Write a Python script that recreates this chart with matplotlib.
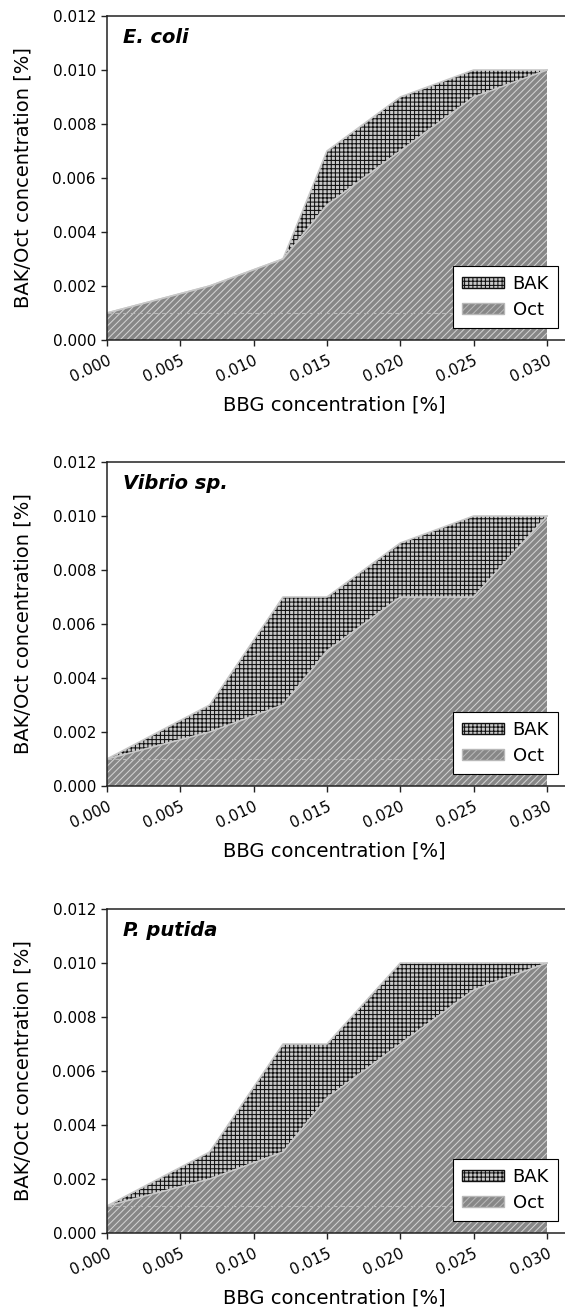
import matplotlib
matplotlib.use("Agg")
import matplotlib.pyplot as plt
from matplotlib.patches import Patch

plt.rcParams['font.family'] = ['DejaVu Sans']
plt.rcParams['hatch.linewidth'] = 0.75

# BBG concentration [%]
bbg = [0.000, 0.007, 0.012, 0.015, 0.020, 0.025, 0.030]

species = ["E. coli", "Vibrio sp.", "P. putida"]
# BAK (upper boundary) and Oct values per species
bak = {
    "E. coli":    [0.001, 0.002, 0.003, 0.007, 0.009, 0.010, 0.010],
    "Vibrio sp.": [0.001, 0.003, 0.007, 0.007, 0.009, 0.010, 0.010],
    "P. putida":  [0.001, 0.003, 0.007, 0.007, 0.010, 0.010, 0.010],
}
oct_ = {
    "E. coli":    [0.001, 0.002, 0.003, 0.005, 0.007, 0.009, 0.010],
    "Vibrio sp.": [0.001, 0.002, 0.003, 0.005, 0.007, 0.007, 0.010],
    "P. putida":  [0.001, 0.002, 0.003, 0.005, 0.007, 0.009, 0.010],
}
xticks = [0.000, 0.005, 0.010, 0.015, 0.020, 0.025, 0.030]
yticks = [0.000, 0.002, 0.004, 0.006, 0.008, 0.010, 0.012]

W, H = 565, 1309
fig = plt.figure(figsize=(W / 100, H / 100), dpi=100)

tops = [16, 462, 909]
ax_h = 324
left_px = 107
x_right_data_px = 547

BAK_FACE = '#c8c8c8'
BAK_HATCH = '#101010'
OCT_FACE = '#878787'
OCT_HATCH = '#d2d2d2'

for sp, top in zip(species, tops):
    bottom = H - (top + ax_h)
    ax = fig.add_axes([left_px / W, bottom / H, (W - left_px) / W, ax_h / H])
    xmax = 0.030 * (W - left_px) / (x_right_data_px - left_px)
    ax.set_xlim(0, xmax)
    ax.set_ylim(0, 0.012)

    # BAK area
    ax.fill_between(bbg, 0, bak[sp], facecolor=BAK_FACE, edgecolor=BAK_HATCH,
                    hatch='++++', linewidth=0, zorder=2)
    ax.plot(bbg, bak[sp], color='#c8c8c8', lw=1.2, zorder=3)
    # Oct area
    ax.fill_between(bbg, 0, oct_[sp], facecolor=OCT_FACE, edgecolor=OCT_HATCH,
                    hatch='/////', linewidth=0, zorder=4)
    ax.plot(bbg, oct_[sp], color='#c8c8c8', lw=1.2, zorder=5)
    ax.plot([0, 0.030], [0.001, 0.001], color='#b8b8b8', lw=0.8,
            ls=(0, (4, 3)), zorder=6)

    ax.spines['right'].set_visible(False)
    for s in ['left', 'bottom', 'top']:
        ax.spines[s].set_color('#222222')
        ax.spines[s].set_linewidth(1.1)
        ax.spines[s].set_zorder(7)

    ax.set_xticks(xticks)
    ax.set_xticklabels([f"{v:.3f}" for v in xticks], rotation=25,
                       ha='right', rotation_mode='anchor')
    ax.set_yticks(yticks)
    ax.set_yticklabels([f"{v:.3f}" for v in yticks])
    ax.tick_params(axis='both', direction='out', length=4, width=1,
                   color='#222222', labelsize=11, pad=4)
    ax.tick_params(axis='x', pad=5)

    ax.set_xlabel("BBG concentration [%]", fontsize=14)
    ax.xaxis.set_label_coords((334 - left_px) / (W - left_px), -0.172)
    ax.set_ylabel("BAK/Oct concentration [%]", fontsize=14)
    ax.yaxis.set_label_coords(-0.163, 0.5)

    ax.text(16 / (W - left_px), 1 - 12 / ax_h, sp, transform=ax.transAxes,
            fontsize=14, fontweight='bold', fontstyle='italic',
            ha='left', va='top', zorder=8)

    handles = [Patch(facecolor=BAK_FACE, edgecolor=BAK_HATCH, hatch='++++',
                     linewidth=1.0, label='BAK'),
               Patch(facecolor=OCT_FACE, edgecolor='#b8b8b8', hatch='/////',
                     linewidth=1.0, label='Oct')]
    leg = ax.legend(handles=handles, loc='lower right',
                    bbox_to_anchor=((558 - left_px) / (W - left_px), 12 / ax_h),
                    borderaxespad=0, fancybox=False, framealpha=1,
                    edgecolor='black', fontsize=13, handlelength=2.3,
                    handleheight=0.6, handletextpad=0.5, labelspacing=0.45,
                    borderpad=0.5)
    leg.get_frame().set_linewidth(0.8)
    leg.set_zorder(9)

fig.savefig("out.png", dpi=100)
